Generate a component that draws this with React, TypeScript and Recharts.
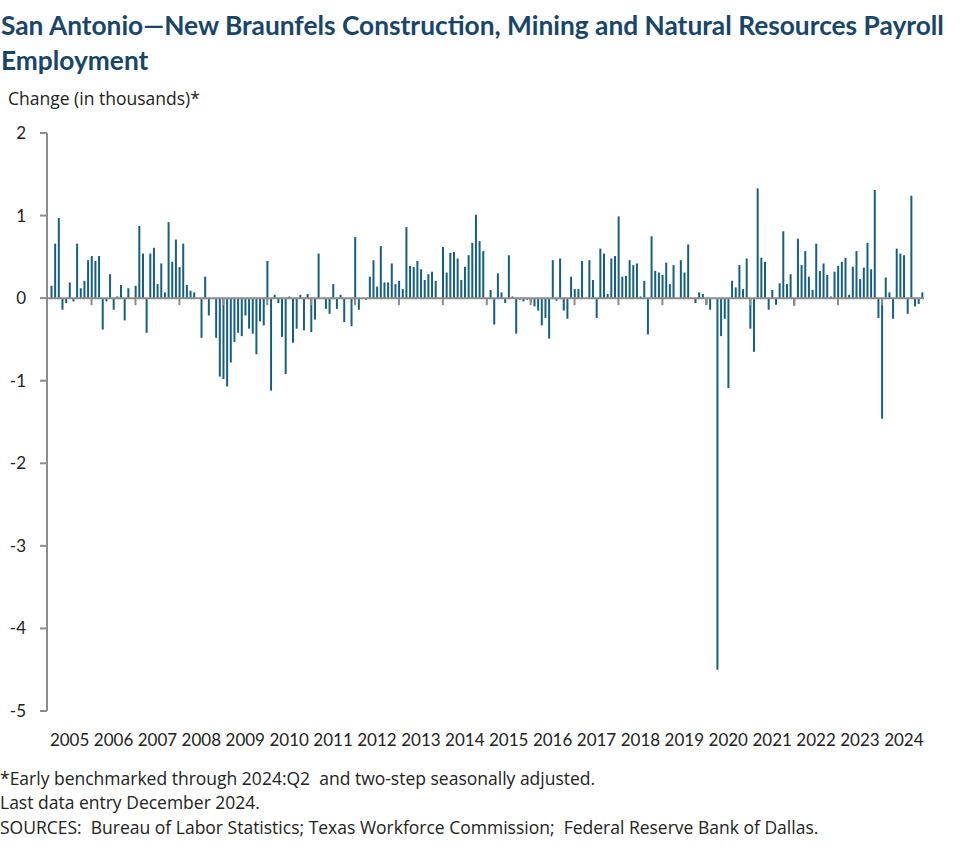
import React from 'react';
import { BarChart, Bar, XAxis, YAxis, ReferenceLine } from 'recharts';

// Monthly change (thousands), first value = Feb 2005, last = Dec 2024
const v2005 = [0.15, 0.66, 0.97, -0.14, -0.06, 0.19, -0.04, 0.66, 0.12, 0.21, 0.46];
const v2006 = [0.51, 0.45, 0.51, -0.38, -0.04, 0.29, -0.14, 0.02, 0.16, -0.27, 0.12, 0];
const v2007 = [0.15, 0.875, 0.54, -0.42, 0.54, 0.61, 0.17, 0.42, 0.07, 0.92, 0.44, 0.71];
const v2008 = [0.375, 0.66, 0.16, 0.09, 0.07, -0.01, -0.48, 0.26, -0.21, 0, -0.48, -0.95];
const v2009 = [-0.98, -1.07, -0.78, -0.53, -0.42, -0.46, -0.21, -0.37, -0.43, -0.68, -0.28, -0.33];
const v2010 = [0.45, -1.12, 0.04, -0.06, -0.47, -0.92, 0.02, -0.54, -0.37, 0.04, -0.39, 0.05];
const v2011 = [-0.41, -0.26, 0.54, 0, -0.13, -0.19, 0.17, -0.13, 0.04, -0.29, -0.01, -0.34];
const v2012 = [0.74, -0.14, 0, -0.02, 0.26, 0.46, 0.14, 0.63, 0.19, 0.19, 0.42, 0.17];
const v2013 = [0.21, 0.11, 0.86, 0.39, 0.375, 0.45, 0.35, 0.22, 0.29, 0.32, 0.21, 0];
const v2014 = [0.62, 0.31, 0.55, 0.56, 0.48, 0.22, 0.38, 0.52, 0.67, 1.01, 0.69, 0.57];
const v2015 = [-0.02, 0.1, -0.32, 0.3, 0.07, -0.06, 0.52, 0.02, -0.43, -0.02, -0.04, -0.02];
const v2016 = [-0.05, -0.1, -0.15, -0.33, -0.24, -0.49, 0.46, -0.03, 0.48, -0.15, -0.25, 0.26];
const v2017 = [0.11, 0.11, 0.45, 0, 0.46, 0.22, -0.24, 0.6, 0.54, 0.05, 0.48, 0.51];
const v2018 = [0.99, 0.26, 0.27, 0.46, 0.4, 0.42, 0.02, 0.21, -0.44, 0.75, 0.33, 0.31];
const v2019 = [0.28, 0.43, 0.17, 0.4, -0.01, 0.46, 0.31, 0.65, 0, -0.06, 0.07, 0.05];
const v2020 = [-0.08, -0.14, 0, -4.5, -0.46, -0.25, -1.09, 0.21, 0.13, 0.4, 0.11, 0.48];
const v2021 = [-0.37, -0.65, 1.33, 0.49, 0.44, -0.14, 0.1, -0.08, 0.18, 0.81, 0.17, 0.29];
const v2022 = [-0.09, 0.72, 0.4, 0.57, 0.26, 0.1, 0.66, 0.33, 0.42, 0.28, 0.02, 0.32];
const v2023 = [0.39, 0.44, 0.49, 0.04, 0.38, 0.57, 0.23, 0.37, 0.67, 0.35, 1.31, -0.24];
const v2024 = [-1.46, 0.25, 0.07, -0.25, 0.6, 0.54, 0.52, -0.19, 1.24, -0.1, -0.07, 0.07];

const yearLabels = ['2005', '2006', '2007', '2008', '2009', '2010', '2011', '2012', '2013', '2014',
  '2015', '2016', '2017', '2018', '2019', '2020', '2021', '2022', '2023', '2024'];
const monthNames = ['Jan', 'Feb', 'Mar', 'Apr', 'May', 'Jun', 'Jul', 'Aug', 'Sep', 'Oct', 'Nov', 'Dec'];
const yTicks = [-5, -4, -3, -2, -1, 0, 1, 2];

const yearValues = [v2005, v2006, v2007, v2008, v2009, v2010, v2011, v2012, v2013, v2014,
  v2015, v2016, v2017, v2018, v2019, v2020, v2021, v2022, v2023, v2024];

type Row = { label: string; year: string; mo: number; v: number };
const data: Row[] = [];
yearValues.forEach((vals, yi) => {
  const startMo = 12 - vals.length;
  vals.forEach((v, k) => {
    const mo = startMo + k;
    data.push({ label: `${monthNames[mo]} ${yearLabels[yi]}`, year: yearLabels[yi], mo, v });
  });
});
const byLabel = new Map<string, Row>(data.map((d) => [d.label, d]));

const FONT = 'Lato, "Open Sans", sans-serif';
const NOTE_FONT = '"Open Sans", Lato, sans-serif';
const AXIS = '#8c8c8c';
const BAR = '#156082';
const TEXT = '#222222';
const TITLE = '#17466a';

const YearTick = (props: any) => {
  const { x, y, payload } = props;
  const d = byLabel.get(payload?.value);
  if (!d || d.mo !== 6) return <g />;
  return (
    <text x={x} y={y + 35} textAnchor="middle" fill={TEXT} fontSize={17} fontFamily={FONT}>
      {d.year}
    </text>
  );
};

export default function App() {
  const janRows = data.filter((d) => d.mo === 0);
  return (
    <div style={{ position: 'absolute', left: 0, top: 0, width: 977, height: 864, background: '#fff' }}>
      <div style={{ position: 'absolute', left: 0, top: 0 }}>
        <BarChart
          width={977}
          height={864}
          data={data}
          margin={{ top: 133, right: 53, bottom: 152, left: 0 }}
        >
          <XAxis
            dataKey="label"
            type="category"
            interval={0}
            tick={<YearTick />}
            tickLine={false}
            axisLine={false}
            height={1}
            tickSize={0}
            tickMargin={0}
            padding={{ left: 2.5, right: 0 }}
          />
          <YAxis
            type="number"
            domain={[-5, 2]}
            ticks={yTicks}
            interval={0}
            width={47}
            tickSize={7}
            tickMargin={14}
            allowDataOverflow
            axisLine={{ stroke: AXIS, strokeWidth: 2 }}
            tickLine={{ stroke: AXIS, strokeWidth: 2 }}
            tick={{ fill: TEXT, fontSize: 17, fontFamily: FONT }}
          />
          <Bar dataKey="v" fill={BAR} barSize={2} isAnimationActive={false} />
          <ReferenceLine y={0} stroke={AXIS} strokeWidth={2} />
          {janRows.map((d) => (
            <ReferenceLine
              key={d.label}
              segment={[{ x: d.label, y: 0 }, { x: d.label, y: -0.085 }]}
              stroke={AXIS}
              strokeWidth={2}
            />
          ))}
        </BarChart>
      </div>
      <svg
        width={977}
        height={864}
        style={{ position: 'absolute', left: 0, top: 0, pointerEvents: 'none' }}
      >
        <text x={1} y={35} fill={TITLE} fontSize={26.3} fontWeight={700} fontFamily={FONT}>
          San Antonio—New Braunfels Construction, Mining and Natural Resources Payroll
        </text>
        <text x={1} y={70} fill={TITLE} fontSize={26.3} fontWeight={700} fontFamily={FONT}>
          Employment
        </text>
        <text x={8} y={105} fill={TEXT} fontSize={17.5} fontFamily={NOTE_FONT}>
          Change (in thousands)*
        </text>
        <text x={0} y={785} fill={TEXT} fontSize={17.5} fontFamily={NOTE_FONT} style={{ whiteSpace: 'pre' }}>
          *Early benchmarked through 2024:Q2  and two-step seasonally adjusted.
        </text>
        <text x={0} y={809} fill={TEXT} fontSize={17.5} fontFamily={NOTE_FONT}>
          Last data entry December 2024.
        </text>
        <text x={0} y={834} fill={TEXT} fontSize={17.5} fontFamily={NOTE_FONT} style={{ whiteSpace: 'pre' }}>
          SOURCES:  Bureau of Labor Statistics; Texas Workforce Commission;  Federal Reserve Bank of Dallas.
        </text>
      </svg>
    </div>
  );
}
